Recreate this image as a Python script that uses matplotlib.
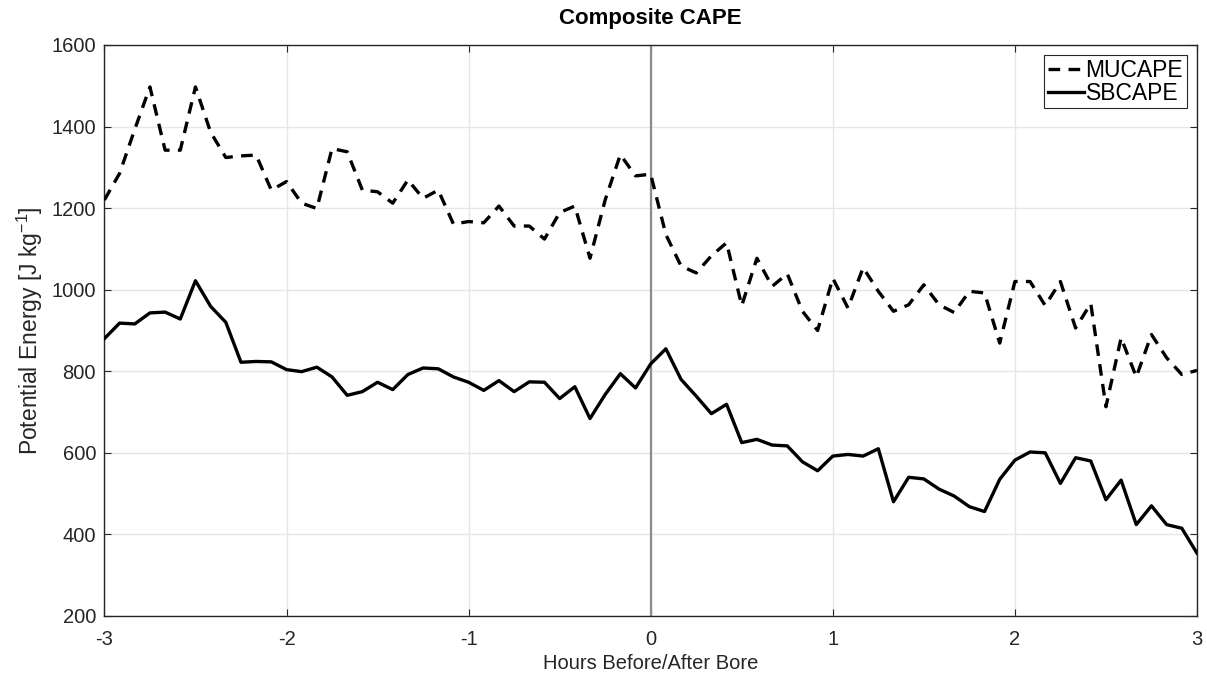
import matplotlib
matplotlib.use("Agg")
import matplotlib.pyplot as plt
import numpy as np

# 5-minute composite, 3 h either side of bore passage
hours = np.arange(73) / 12.0 - 3.0

mucape = [1220, 1285, 1393, 1497, 1342, 1342, 1497, 1386, 1324, 1328,
          1330, 1244, 1265, 1212, 1199, 1346, 1338, 1244, 1240, 1212,
          1269, 1224, 1244, 1161, 1167, 1164, 1205, 1156, 1156, 1124,
          1189, 1205, 1077, 1220, 1331, 1279, 1283, 1135, 1058, 1041,
          1083, 1115, 961, 1077, 1008, 1039, 947, 900, 1028, 955,
          1054, 996, 947, 963, 1012, 963, 944, 996, 992, 869,
          1020, 1020, 961, 1020, 906, 966, 713, 882, 786, 890,
          833, 792, 802]

sbcape = [880, 918, 916, 943, 945, 928, 1022, 959, 920, 822,
          824, 823, 804, 799, 810, 786, 741, 750, 773, 755,
          792, 808, 806, 786, 773, 753, 777, 750, 774, 773,
          733, 762, 684, 743, 794, 759, 818, 855, 780, 739,
          696, 719, 625, 633, 619, 617, 578, 556, 592, 596,
          592, 610, 480, 540, 536, 511, 494, 468, 456, 535,
          582, 602, 600, 525, 588, 580, 485, 533, 424, 470,
          424, 415, 354]

plt.rcParams['font.family'] = ['Liberation Sans', 'DejaVu Sans']
plt.rcParams['axes.unicode_minus'] = False
plt.rcParams['mathtext.fontset'] = 'custom'
plt.rcParams['mathtext.rm'] = 'Liberation Sans'
plt.rcParams['mathtext.it'] = 'Liberation Sans'

fig = plt.figure(figsize=(12.07, 6.81), dpi=100)
ax = fig.add_axes([0.0865, 0.0955, 0.9052, 0.8385])

# zero line marking the bore
ax.axvline(0, color='#8c8c8c', linewidth=1.6, zorder=1)

ax.plot(hours, mucape, color='black', linestyle=(0, (3.5, 2.5)),
        linewidth=2.4, label='MUCAPE', zorder=3)
ax.plot(hours, sbcape, color='black', linestyle='-',
        linewidth=2.4, label='SBCAPE', zorder=3)

ax.set_xlim(-3, 3)
ax.set_ylim(200, 1600)
ax.set_xticks(np.arange(-3, 4, 1))
ax.set_yticks(np.arange(200, 1601, 200))

ax.grid(True, color='#e6e6e6', linewidth=1.0)
ax.set_axisbelow(True)
ax.tick_params(direction='in', length=5, width=0.8, top=True, right=True,
               labelsize=14.5, colors='#262626')
ax.tick_params(axis='x', pad=10)
ax.tick_params(axis='y', pad=6)
for s in ax.spines.values():
    s.set_color('#262626')
    s.set_linewidth(1.0)

ax.set_title('Composite CAPE', fontsize=16, fontweight='bold', pad=15)
ax.set_xlabel('Hours Before/After Bore', fontsize=14.5, color='#262626', labelpad=4)
ax.set_ylabel('Potential Energy [J kg$^{-1}$]', fontsize=16.5, color='#262626', labelpad=5)

leg = ax.legend(loc='upper right', fontsize=16.5, fancybox=False, framealpha=1,
                edgecolor='#262626', handlelength=1.6, handletextpad=0.05,
                borderpad=0.15, labelspacing=0.0, borderaxespad=0.45)
leg.get_frame().set_linewidth(0.8)

fig.savefig('out.png', dpi=100, facecolor='white')
